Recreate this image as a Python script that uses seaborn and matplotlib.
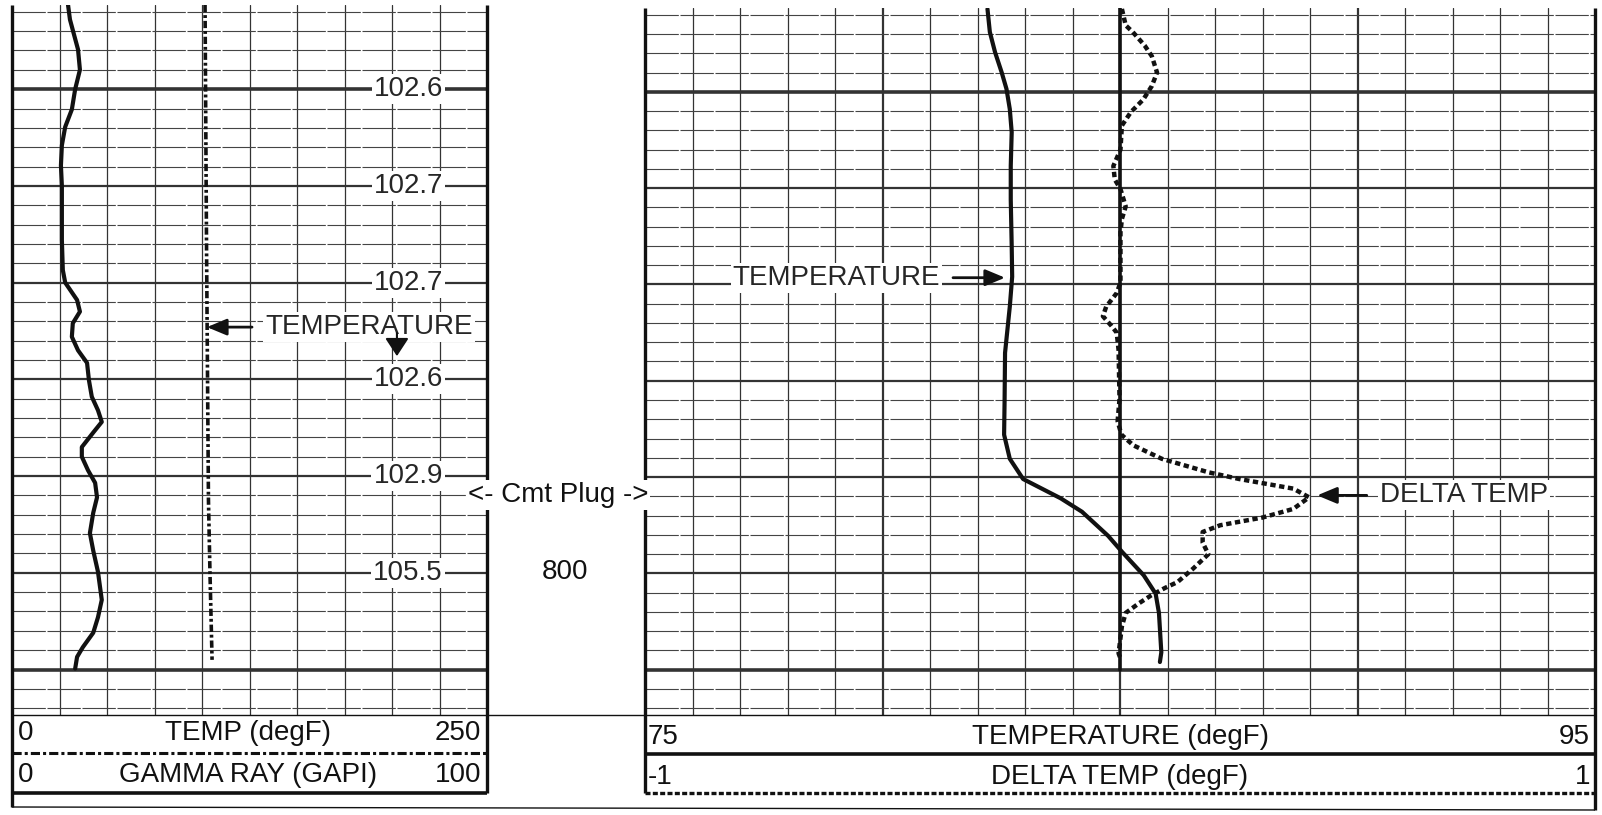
import numpy as np
import matplotlib
matplotlib.use("Agg")
import matplotlib.pyplot as plt
import seaborn as sns

# --- log curves (depth in ft) ---
# left track: gamma ray (solid) and temperature (dash-dot)
gr_depth = [741.3, 742.8, 745.9, 748.0, 750.0, 752.1, 753.9, 755.8, 757.9, 760.0,
            762.0, 765.6, 768.7, 770.0, 771.8, 773.0, 774.2, 775.6, 777.0, 778.3,
            780.1, 781.8, 783.2, 784.4, 785.5, 787.0, 788.0, 789.4, 790.7, 792.2,
            793.8, 795.9, 797.7, 799.9, 802.8, 804.6, 806.2, 807.7, 808.7, 809.9]
gr_gapi = [11.8, 12.2, 13.9, 14.3, 13.3, 12.6, 11.2, 10.5, 10.3, 10.5,
           10.5, 10.5, 10.7, 11.2, 13.7, 14.3, 12.8, 12.6, 13.9, 15.8,
           16.2, 16.8, 18.1, 18.9, 17.1, 14.7, 14.7, 16.0, 17.5, 17.9,
           17.1, 16.4, 17.1, 18.1, 18.9, 18.1, 17.1, 14.9, 13.7, 13.3]

temp_depth = [741.3, 766.6, 792.5, 800.0, 809.0]
temp_degf = [101.6, 102.4, 103.4, 104.2, 105.3]

temp_marks_depth = [750, 760, 770, 780, 790, 800]
temp_marks_text = ["102.6", "102.7", "102.7", "102.6", "102.9", "105.5"]

# right track: temperature (solid) and delta temperature (dashed)
rt_depth = [741.4, 743.8, 745.9, 748.0, 749.7, 751.8, 754.2, 757.7, 761.2, 766.0,
            769.2, 772.3, 777.1, 782.2, 785.6, 788.1, 790.2, 792.2, 793.6, 796.1,
            797.8, 800.2, 802.1, 804.1, 808.2, 809.2]
rt_degf = [82.21, 82.26, 82.37, 82.51, 82.61, 82.68, 82.72, 82.70, 82.70, 82.72,
           82.73, 82.68, 82.58, 82.57, 82.56, 82.68, 82.96, 83.75, 84.20, 84.75,
           85.05, 85.50, 85.75, 85.82, 85.87, 85.84]

dt_depth = [741.4, 743.1, 743.8, 745.2, 746.3, 748.0, 749.4, 750.8, 752.1, 753.5,
            756.0, 757.7, 759.1, 760.1, 761.9, 763.2, 764.6, 769.8, 770.9, 772.3,
            773.3, 774.3, 775.0, 776.8, 781.9, 784.2, 785.6, 786.7, 788.1, 789.5,
            790.2, 791.2, 792.1, 793.3, 794.2, 795.0, 795.7, 796.8, 798.0, 799.5,
            800.9, 801.5, 802.3, 803.1, 804.1, 805.5, 808.3, 808.7]
dt_degf = [0.004, 0.012, 0.027, 0.052, 0.067, 0.078, 0.067, 0.049, 0.023, 0.004,
           0.001, -0.014, -0.011, 0.001, 0.012, 0.004, 0.001, 0.001, -0.007, -0.029,
           -0.036, -0.018, -0.007, -0.003, -0.001, -0.005, 0.003, 0.028, 0.088, 0.186,
           0.251, 0.365, 0.398, 0.365, 0.300, 0.211, 0.174, 0.174, 0.186, 0.154,
           0.121, 0.095, 0.065, 0.040, 0.012, 0.004, -0.003, 0.000]

base_depth = [741.3, 810.0]
base_degf = [0.0, 0.0]

depth_label = "800"
top_depth, bottom_depth = 741.3, 814.7

sns.set_style("white")
plt.rcParams["font.family"] = ["Liberation Sans", "DejaVu Sans"]
plt.rcParams["font.size"] = 20

W, H = 1602, 815
fig = plt.figure(figsize=(W / 100, H / 100), dpi=100)


def px_box(x0, y0, x1, y1):
    return [x0 / W, 1 - y1 / H, (x1 - x0) / W, (y1 - y0) / H]


ax_l = fig.add_axes(px_box(12, 5, 487, 715))
ax_r = fig.add_axes(px_box(645, 8, 1595, 715))
ax_l2 = ax_l.twiny()
ax_r2 = ax_r.twiny()

ink = "#111111"
grid_ink = "#333333"


def depth_grid(ax, xs, mid_xs):
    for x in xs:
        ax.axvline(x, color=grid_ink, lw=1.6 if x in mid_xs else 0.9, zorder=0)
    for d in np.arange(742, 815, 2):
        if d in (750, 810):
            lw, ls, c = 2.6, "-", grid_ink
        elif d % 10 == 0:
            lw, ls, c = 1.6, "-", grid_ink
        else:
            lw, ls, c = 0.8, (0, (30, 1.5)), "#444444"
        ax.axhline(d, color=c, lw=lw, ls=ls, zorder=0)


depth_grid(ax_l, list(np.linspace(0, 250, 11)[1:-1]), [])
depth_grid(ax_r, list(range(76, 95)), [80, 85, 90])

# curves
sns.lineplot(x=gr_gapi, y=gr_depth, ax=ax_l2, sort=False, estimator=None,
             color=ink, lw=3, solid_joinstyle="round")
sns.lineplot(x=temp_degf, y=temp_depth, ax=ax_l, sort=False, estimator=None,
             color=ink, lw=2.6, linestyle=(0, (2, 0.8, 0.8, 0.8)))
sns.lineplot(x=rt_degf, y=rt_depth, ax=ax_r, sort=False, estimator=None,
             color=ink, lw=3, solid_joinstyle="round")
sns.lineplot(x=base_degf, y=base_depth, ax=ax_r2, sort=False, estimator=None,
             color=ink, lw=2.6)
sns.lineplot(x=dt_degf, y=dt_depth, ax=ax_r2, sort=False, estimator=None,
             color=ink, lw=3.2, linestyle=(0, (1.2, 0.8)))

ax_l.set_xlim(0, 250)
ax_l2.set_xlim(0, 100)
ax_r.set_xlim(75, 95)
ax_r2.set_xlim(-1, 1)
for a in (ax_l, ax_r):
    a.set_ylim(bottom_depth, top_depth)

for a in (ax_l, ax_l2, ax_r, ax_r2):
    a.set_xticks([])
    a.set_yticks([])
    a.set_xlabel("")
    a.set_ylabel("")
    for s in a.spines.values():
        s.set_visible(False)

white = dict(facecolor="white", edgecolor="none", pad=1.5)

# temperature readings written in the left track
for d, s in zip(temp_marks_depth, temp_marks_text):
    ax_l.text(0.834, d, s, transform=ax_l.get_yaxis_transform(), ha="center",
              va="center", bbox=white, zorder=5)

arrow = dict(arrowstyle="-|>,head_length=0.6,head_width=0.25", lw=2, color=ink,
             shrinkA=8, shrinkB=0, mutation_scale=20)
ax_l.annotate("TEMPERATURE", xy=(102.6, 774.6), xytext=(133.2, 774.6),
              ha="left", va="center", bbox=white, arrowprops=arrow, zorder=6)
ax_l.annotate("", xy=(202.6, 777.6), xytext=(202.6, 775.2),
              arrowprops=dict(arrowstyle="-|>,head_length=0.55,head_width=0.36",
                              lw=1.5, color=ink, shrinkA=0, shrinkB=0,
                              mutation_scale=20), zorder=7)
ax_r.annotate("TEMPERATURE", xy=(82.58, 769.3), xytext=(81.21, 769.3),
              ha="right", va="center", bbox=white, arrowprops=arrow, zorder=6)
ax_r2.annotate("DELTA TEMP", xy=(0.415, 791.9), xytext=(0.547, 791.9),
               ha="left", va="center", bbox=white, arrowprops=arrow, zorder=6)

# frame, header boxes and depth column (pixel layout)
fr = fig.add_axes([0, 0, 1, 1])
fr.set_xlim(0, W)
fr.set_ylim(H, 0)
fr.axis("off")


def seg(x0, y0, x1, y1, lw=1.0, ls="-"):
    fr.plot([x0, x1], [y0, y1], color=ink, lw=lw, ls=ls, solid_capstyle="butt")


seg(12, 5, 12, 807, 2.4)
seg(487, 5, 487, 793, 2.4)
seg(645, 8, 645, 793, 2.4)
seg(1595, 8, 1595, 810, 2.4)
seg(12, 715, 1595, 715, 1.0)
seg(12, 753, 487, 753, 2.2, (0, (3, 1, 1, 1)))
seg(12, 793, 487, 793, 2.6)
seg(645, 754, 1595, 754, 2.6)
seg(645, 793, 1595, 793, 2.4, (0, (1.5, 0.7)))
seg(12, 807, 1595, 810, 1.0)

hdr = [
    (18, 733, "0", "left"), (248, 733, "TEMP (degF)", "center"), (481, 733, "250", "right"),
    (18, 775, "0", "left"), (248, 775, "GAMMA RAY (GAPI)", "center"), (481, 775, "100", "right"),
    (648, 737, "75", "left"), (1120, 737, "TEMPERATURE (degF)", "center"), (1590, 737, "95", "right"),
    (648, 777, "-1", "left"), (1120, 777, "DELTA TEMP (degF)", "center"), (1590, 777, "1", "right"),
]
for x, y, s, ha in hdr:
    fr.text(x, y, s, ha=ha, va="center", color=ink)

fr.text(558, 495, "<- Cmt Plug ->", ha="center", va="center", color=ink,
        bbox=white, zorder=10)
fr.text(565, 572, depth_label, ha="center", va="center", color=ink)

fig.savefig("out.png", dpi=100, facecolor="white")
